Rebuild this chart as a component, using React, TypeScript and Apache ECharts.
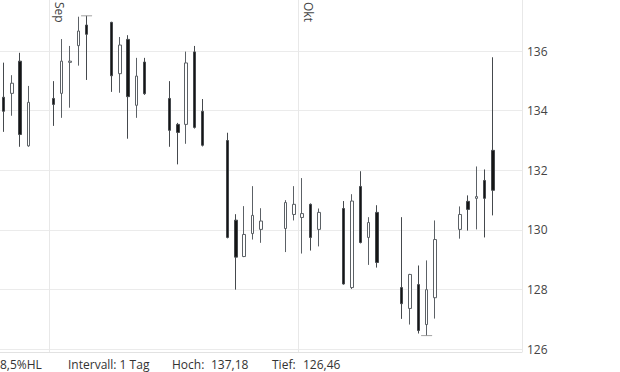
import React, { useEffect, useRef } from "react";
import * as echarts from "echarts";

// One slot per calendar day (weekends kept empty, as on the reference time scale)
const DATES = [
  "2025-08-26", "2025-08-27", "2025-08-28", "2025-08-29", "2025-08-30", "2025-08-31",
  "2025-09-01", "2025-09-02", "2025-09-03", "2025-09-04", "2025-09-05", "2025-09-06", "2025-09-07",
  "2025-09-08", "2025-09-09", "2025-09-10", "2025-09-11", "2025-09-12", "2025-09-13", "2025-09-14",
  "2025-09-15", "2025-09-16", "2025-09-17", "2025-09-18", "2025-09-19", "2025-09-20", "2025-09-21",
  "2025-09-22", "2025-09-23", "2025-09-24", "2025-09-25", "2025-09-26", "2025-09-27", "2025-09-28",
  "2025-09-29", "2025-09-30", "2025-10-01", "2025-10-02", "2025-10-03", "2025-10-04", "2025-10-05",
  "2025-10-06", "2025-10-07", "2025-10-08", "2025-10-09", "2025-10-10", "2025-10-11", "2025-10-12",
  "2025-10-13", "2025-10-14", "2025-10-15", "2025-10-16", "2025-10-17", "2025-10-18", "2025-10-19",
  "2025-10-20", "2025-10-21", "2025-10-22", "2025-10-23", "2025-10-24", "2025-10-25", "2025-10-26",
  "2025-10-27",
];

const OPEN = [
  134.45, 134.58, 135.66, 132.82, null, null,
  134.41, 134.58, 135.62, 136.18, 136.87, null, null,
  136.96, 135.24, 136.39, 134.18, 135.63, null, null,
  134.41, 133.54, 133.54, 135.97, 133.98, null, null,
  133.0, 130.33, 129.11, 129.88, 130.02, null, null,
  130.05, 130.52, 130.42, 130.86, 130.02, null, null,
  130.72, 128.07, 131.46, 129.75, 130.59, null, null,
  128.07, 127.37, 128.17, 126.83, 127.73, null, null,
  130.02, 130.96, 131.06, 131.66, 132.67, null, null,
  null,
];
const CLOSE = [
  133.98, 134.92, 133.2, 134.28, null, null,
  134.21, 135.66, 135.66, 136.67, 136.56, null, null,
  135.17, 136.2, 134.47, 135.16, 134.57, null, null,
  133.34, 133.27, 135.6, 133.44, 132.84, null, null,
  129.75, 129.09, 129.85, 130.49, 130.3, null, null,
  130.92, 130.86, 130.55, 129.75, 130.59, null, null,
  128.19, 130.97, 129.58, 130.25, 128.91, null, null,
  127.53, 128.51, 126.63, 128.0, 129.68, null, null,
  130.52, 130.69, 131.12, 131.06, 131.33, null, null,
  null,
];
const LOW = [
  133.29, 133.83, 132.79, 132.79, null, null,
  133.49, 133.76, 134.1, 135.51, 135.03, null, null,
  134.63, 134.6, 133.06, 133.76, 134.53, null, null,
  132.79, 132.2, 132.89, 133.4, 132.8, null, null,
  129.72, 128.0, 129.09, 129.68, 129.57, null, null,
  129.26, 130.32, 129.21, 129.31, 129.45, null, null,
  128.17, 128.02, 129.55, 128.83, 128.74, null, null,
  127.02, 126.83, 126.53, 126.46, 127.03, null, null,
  129.71, 129.98, 130.02, 129.75, 130.49, null, null,
  null,
];
const HIGH = [
  135.61, 135.19, 135.94, 134.83, null, null,
  134.99, 136.4, 136.17, 137.15, 137.18, null, null,
  136.98, 136.47, 136.53, 135.77, 135.77, null, null,
  134.99, 133.59, 135.98, 136.17, 134.39, null, null,
  133.26, 130.53, 130.8, 131.47, 130.73, null, null,
  131.0, 131.47, 131.74, 130.89, 130.72, null, null,
  130.97, 131.2, 131.97, 130.43, 130.83, null, null,
  130.43, 128.53, 128.81, 128.98, 130.32, null, null,
  130.79, 131.16, 132.13, 132.03, 135.79, null, null,
  null,
];

const MONTHS = ["Jan", "Feb", "Mär", "Apr", "Mai", "Jun", "Jul", "Aug", "Sep", "Okt", "Nov", "Dez"];

const Y_MIN = 125.91;
const Y_MAX = 137.71;

const INFO_TEXTS = ["8,5%HL", "Intervall: 1 Tag", "Hoch:", "137,18", "Tief:", "126,46"];
const INFO_X = [0, 68, 172, 211, 272, 303];

const FONT = "'Open Sans', 'Noto Sans', sans-serif";

export default function App() {
  const ref = useRef<HTMLDivElement | null>(null);

  useEffect(() => {
    if (!ref.current) return;
    const chart = echarts.init(ref.current, null, { renderer: "svg" });

    const candleData = DATES.map((_, i) =>
      OPEN[i] == null ? ["-", "-", "-", "-"] : [OPEN[i], CLOSE[i], LOW[i], HIGH[i]]
    );

    let hiIdx = 0;
    let loIdx = 0;
    HIGH.forEach((h, i) => {
      if (h != null && h > (HIGH[hiIdx] as number)) hiIdx = i;
    });
    LOW.forEach((l, i) => {
      if (l != null && l < (LOW[loIdx] as number)) loIdx = i;
    });

    const isMonthStart = (_: number, v: string) => v.endsWith("-01");

    chart.setOption({
      animation: false,
      backgroundColor: "#ffffff",
      grid: {
        left: -0.5,
        right: 98,
        top: 0,
        bottom: 20,
        containLabel: false,
        outerBoundsMode: "none",
      },
      xAxis: [
        {
          type: "category",
          data: DATES,
          position: "bottom",
          boundaryGap: true,
          axisLine: { show: true, onZero: false, lineStyle: { color: "#e2e2e2", width: 1 } },
          axisTick: { show: false },
          axisLabel: { show: false },
          splitLine: {
            show: true,
            interval: isMonthStart,
            lineStyle: { color: "#e8e8e8", width: 1 },
          },
        },
        {
          type: "category",
          data: DATES,
          position: "top",
          boundaryGap: true,
          axisLine: { show: false, onZero: false },
          axisTick: { show: false },
          splitLine: { show: false },
          axisLabel: {
            show: true,
            inside: true,
            rotate: 90,
            margin: 2,
            interval: isMonthStart,
            formatter: (v: string) => MONTHS[parseInt(v.slice(5, 7), 10) - 1],
            align: "left",
            verticalAlign: "bottom",
            fontSize: 12,
            color: "#444",
            fontFamily: FONT,
          },
        },
      ],
      yAxis: {
        type: "value",
        position: "right",
        min: () => Y_MIN,
        max: () => Y_MAX,
        splitNumber: 5,
        axisLine: { show: false },
        axisTick: { show: false },
        axisLabel: {
          margin: 5,
          fontSize: 12,
          color: "#444",
          fontFamily: FONT,
          showMinLabel: false,
          showMaxLabel: false,
        },
        splitLine: {
          show: true,
          showMinLine: false,
          showMaxLine: false,
          lineStyle: { color: "#ebebeb", width: 1 },
        },
      },
      series: [
        {
          type: "candlestick",
          xAxisIndex: 0,
          data: candleData,
          barWidth: 3,
          itemStyle: {
            color: "#ffffff",
            color0: "#151515",
            borderColor: "#5c6166",
            borderColor0: "#45494d",
            borderWidth: 1,
          },
        },
        {
          type: "scatter",
          xAxisIndex: 0,
          symbol: "rect",
          symbolSize: [11, 1],
          silent: true,
          itemStyle: { color: "#8a8a8a" },
          data: [
            [hiIdx, HIGH[hiIdx]],
            [loIdx, LOW[loIdx]],
          ],
        },
      ],
      graphic: INFO_TEXTS.map((t, i) => ({
        type: "text",
        x: INFO_X[i],
        y: 364,
        silent: true,
        style: {
          text: t,
          fontSize: 12,
          fontFamily: FONT,
          fill: "#333",
          verticalAlign: "middle",
          align: "left",
        },
      })),
    });

    return () => chart.dispose();
  }, []);

  return (
    <div
      ref={ref}
      style={{ position: "absolute", left: 0, top: 0, width: 620, height: 372, background: "#fff" }}
    />
  );
}
